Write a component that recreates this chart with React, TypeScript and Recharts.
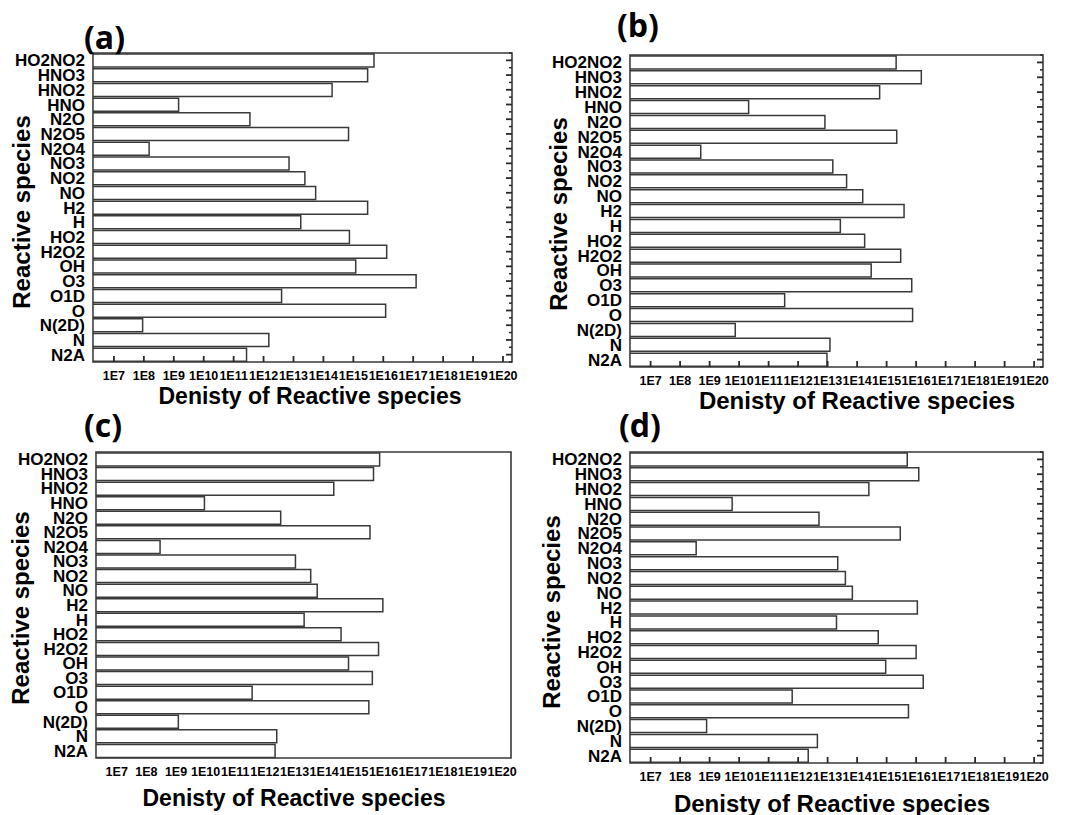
import { BarChart, Bar, XAxis, YAxis, ReferenceArea, ReferenceLine } from 'recharts'

// species listed top to bottom as in the figure
const species = [
  'HO2NO2', 'HNO3', 'HNO2', 'HNO', 'N2O', 'N2O5', 'N2O4', 'NO3', 'NO2', 'NO',
  'H2', 'H', 'HO2', 'H2O2', 'OH', 'O3', 'O1D', 'O', 'N(2D)', 'N', 'N2A'
]

// density values (log scale)
const densityA = [
  4.9e15, 3.0e15, 1.95e14, 1.45e9, 3.5e11, 6.9e14, 1.5e8, 7.1e12, 2.4e13, 5.5e13,
  3.0e15, 1.75e13, 7.4e14, 1.3e16, 1.2e15, 1.25e17, 4.0e12, 1.2e16, 9.1e7, 1.5e12, 2.7e11
]
const densityB = [
  2.1e15, 1.5e16, 5.8e14, 2.1e10, 8.1e12, 2.2e15, 5.0e8, 1.5e13, 4.4e13, 1.55e14,
  3.9e15, 2.7e13, 1.8e14, 3.0e15, 3.0e14, 7.1e15, 3.5e11, 7.6e15, 7.4e9, 1.2e13, 9.5e12
]
const densityC = [
  7.4e15, 4.6e15, 2.1e14, 9.1e9, 3.4e12, 3.5e15, 2.9e8, 1.07e13, 3.5e13, 5.8e13,
  9.5e15, 2.1e13, 3.7e14, 6.8e15, 6.6e14, 4.2e15, 3.7e11, 3.2e15, 1.2e9, 2.5e12, 2.2e12
]
const densityD = [
  5.0e15, 1.23e16, 2.5e14, 5.8e9, 5.1e12, 2.9e15, 3.5e8, 2.2e13, 4.0e13, 6.9e13,
  1.1e16, 2.0e13, 5.2e14, 1.0e16, 9.3e14, 1.74e16, 6.3e11, 5.5e15, 7.9e8, 4.5e12, 2.2e12
]

const xTicks = [1e7, 1e8, 1e9, 1e10, 1e11, 1e12, 1e13, 1e14, 1e15, 1e16, 1e17, 1e18, 1e19, 1e20]
const xDomain = [2e6, 2e20]

const FRAME = '#3a3a3a'
const TICK = '#2a2a2a'
const YW = 95
const TOP = 10
const RIGHT = 10
const XH = 40

type Box = { x: number; y: number; w: number; h: number }

interface PanelProps {
  letter: string
  values: number[]
  box: Box
  ticks: boolean
  letterPos: { x: number; y: number }
  yTitle: { cx: number; cy: number }
  xTitle: { cx: number; top: number; size: number }
}

const fmtTick = (v: number) => '1E' + Math.round(Math.log10(v))

// inward tick marks drawn as short pieces of reference lines
const bottomTick = (p: any) => {
  const yb = Math.max(p.y1, p.y2)
  return <line x1={p.x1} x2={p.x1} y1={yb} y2={yb - 6} stroke={TICK} strokeWidth={1.8} />
}
const rightMajor = (p: any) => {
  const xr = Math.max(p.x1, p.x2)
  return <line x1={xr} x2={xr - 6} y1={p.y1} y2={p.y1} stroke={TICK} strokeWidth={1.8} />
}
const rightMinor = (p: any) => {
  const xr = Math.max(p.x1, p.x2)
  return <line x1={xr} x2={xr - 3} y1={p.y1} y2={p.y1} stroke={TICK} strokeWidth={1.5} />
}

function Panel({ letter, values, box, ticks, letterPos, yTitle, xTitle }: PanelProps) {
  const data = species.map((name, i) => ({ name, value: values[i] }))

  return (
    <>
      <div style={{ position: 'absolute', left: box.x - YW, top: box.y - TOP }}>
        <BarChart
          layout="vertical"
          width={YW + box.w + RIGHT}
          height={TOP + box.h + XH}
          data={data}
          margin={{ top: TOP, right: RIGHT, bottom: 0, left: 0 }}
          barCategoryGap={1}
        >
          <XAxis
            type="number"
            scale="log"
            domain={xDomain}
            allowDataOverflow
            ticks={xTicks}
            interval={0}
            tickFormatter={fmtTick}
            height={XH}
            axisLine={false}
            tickLine={false}
            tickSize={0}
            tickMargin={9}
            tick={{ fontSize: 12.5, fontWeight: 'bold', fill: '#000' }}
          />
          <YAxis
            type="category"
            dataKey="name"
            width={YW}
            interval={0}
            axisLine={false}
            tickLine={false}
            tickSize={0}
            tickMargin={8}
            tick={{ fontSize: 17, fontWeight: 'bold', fill: '#000' }}
          />
          <Bar
            dataKey="value"
            fill="#fff"
            stroke={FRAME}
            strokeWidth={1.5}
            isAnimationActive={false}
          />
          {ticks && xTicks.map((t) => (
            <ReferenceLine key={'x' + t} x={t} shape={bottomTick} />
          ))}
          {ticks && species.map((s) => (
            <ReferenceLine key={'m' + s} y={s} shape={rightMajor} />
          ))}
          {ticks && species.map((s) => (
            <ReferenceLine key={'n' + s} y={s} position="start" shape={rightMinor} />
          ))}
          {ticks && (
            <ReferenceLine y={species[species.length - 1]} position="end" shape={rightMinor} />
          )}
          <ReferenceArea
            x1={xDomain[0]}
            x2={xDomain[1]}
            fill="none"
            stroke={FRAME}
            strokeWidth={1.6}
          />
        </BarChart>
      </div>
      <div style={{
        position: 'absolute', left: letterPos.x, top: letterPos.y,
        fontFamily: '"Open Sans", sans-serif', fontWeight: 700, fontSize: 32, lineHeight: 1
      }}>
        ({letter})
      </div>
      <div style={{
        position: 'absolute', left: yTitle.cx - 150, top: yTitle.cy - 12, width: 300,
        textAlign: 'center', fontSize: 24, lineHeight: '24px', fontWeight: 700,
        transform: 'rotate(-90deg)', whiteSpace: 'nowrap'
      }}>
        Reactive species
      </div>
      <div style={{
        position: 'absolute', left: xTitle.cx - 200, top: xTitle.top, width: 400,
        textAlign: 'center', fontSize: xTitle.size, lineHeight: 1, fontWeight: 700,
        whiteSpace: 'nowrap'
      }}>
        Denisty of Reactive species
      </div>
    </>
  )
}

export default function App() {
  return (
    <div style={{
      position: 'absolute', left: 0, top: 0, width: 1065, height: 815,
      background: '#fff', color: '#000',
      fontFamily: '"Liberation Sans", Arial, sans-serif'
    }}>
      <Panel
        letter="a" values={densityA} ticks
        box={{ x: 93, y: 53, w: 419, h: 309 }}
        letterPos={{ x: 84, y: 21 }}
        yTitle={{ cx: 22, cy: 212 }}
        xTitle={{ cx: 310, top: 385, size: 23 }}
      />
      <Panel
        letter="b" values={densityB} ticks
        box={{ x: 630, y: 55, w: 413, h: 312 }}
        letterPos={{ x: 617, y: 9 }}
        yTitle={{ cx: 559, cy: 214 }}
        xTitle={{ cx: 857, top: 389, size: 24 }}
      />
      <Panel
        letter="c" values={densityC} ticks={false}
        box={{ x: 96, y: 452, w: 415, h: 306 }}
        letterPos={{ x: 84, y: 409 }}
        yTitle={{ cx: 21, cy: 608 }}
        xTitle={{ cx: 294, top: 787, size: 23 }}
      />
      <Panel
        letter="d" values={densityD} ticks
        box={{ x: 630, y: 452, w: 413, h: 311 }}
        letterPos={{ x: 619, y: 409 }}
        yTitle={{ cx: 552, cy: 612 }}
        xTitle={{ cx: 832, top: 792, size: 24 }}
      />
    </div>
  )
}
